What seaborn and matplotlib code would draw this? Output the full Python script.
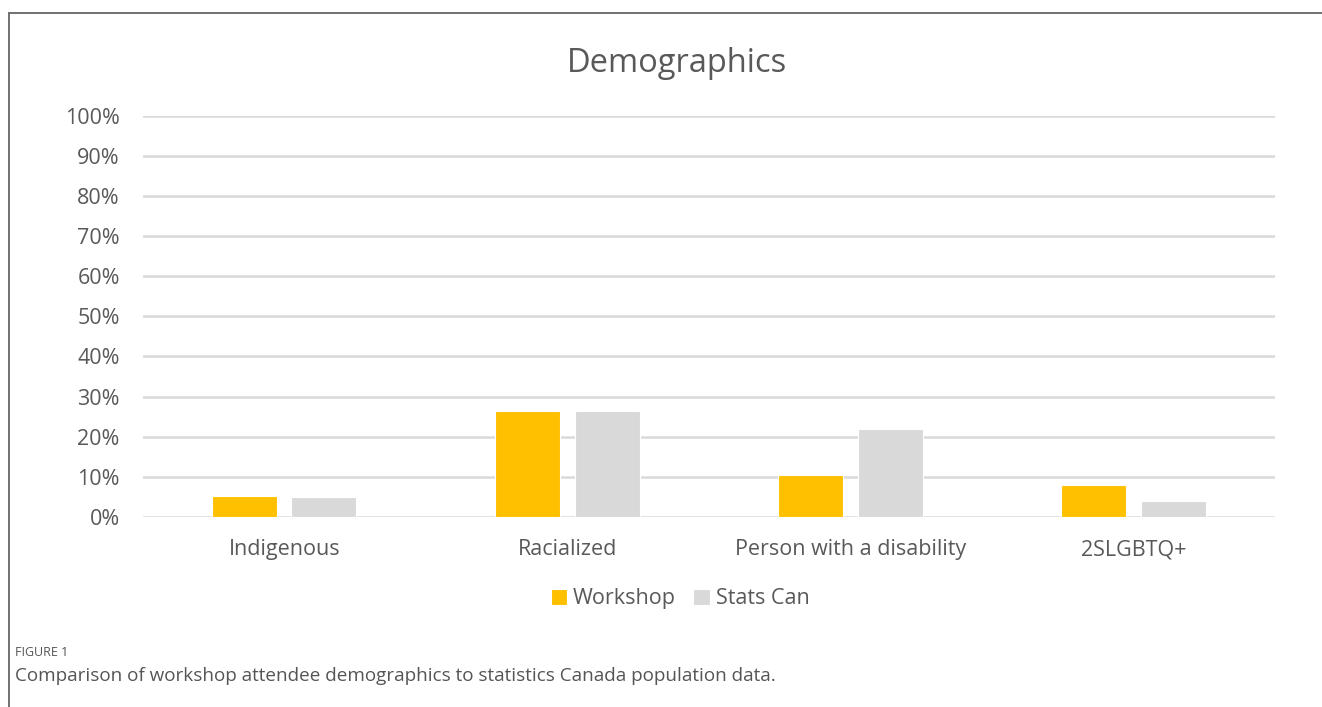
import matplotlib
matplotlib.use("Agg")
import matplotlib.pyplot as plt
from matplotlib.lines import Line2D
from matplotlib.ticker import FuncFormatter
import seaborn as sns
import pandas as pd

categories = ["Indigenous", "Racialized", "Person with a disability", "2SLGBTQ+"]
workshop = [5.3, 26.3, 10.4, 8.0]
stats_can = [5.0, 26.3, 21.9, 3.9]
series_names = ["Workshop", "Stats Can"]
yticks = [0, 10, 20, 30, 40, 50, 60, 70, 80, 90, 100]

df = pd.DataFrame({
    "Category": categories * 2,
    "Value": workshop + stats_can,
    "Series": [series_names[0]] * len(categories) + [series_names[1]] * len(categories),
})

sns.set_theme(style="white")
plt.rcParams["font.family"] = ["Open Sans", "DejaVu Sans"]
text_color = "#595959"

fig = plt.figure(figsize=(13.22, 7.07), dpi=100)
ax = fig.add_axes([0.108, 0.269, 0.8565, 0.567])

sns.barplot(data=df, x="Category", y="Value", hue="Series", order=categories,
            hue_order=series_names, palette=["#FFC000", "#D9D9D9"], saturation=1,
            width=0.56, gap=0.18, edgecolor="white", linewidth=0.8, ax=ax,
            legend=True, zorder=3)

ax.set_ylim(0, 100)
ax.set_xlim(-0.5, 3.5)
ax.set_yticks(yticks)
ax.yaxis.set_major_formatter(FuncFormatter(lambda v, p: f"{int(v)}%"))
ax.grid(axis="y", color="#D9D9D9", linewidth=1.8, zorder=0)
ax.set_axisbelow(True)
for s in ax.spines.values():
    s.set_visible(False)
ax.set_xlabel("")
ax.set_ylabel("")
ax.tick_params(axis="y", labelsize=15.5, colors=text_color, length=0, pad=16.5)
ax.tick_params(axis="x", labelsize=15.5, colors=text_color, length=0, pad=16)

fig.text(0.512, 0.91, "Demographics", ha="center", va="center", fontsize=23.5, color=text_color)

leg = ax.legend(loc="center", bbox_to_anchor=(0.5145, 0.153), bbox_transform=fig.transFigure,
                ncol=2, frameon=False, fontsize=15.5, handlelength=0.75, handleheight=0.75,
                handletextpad=0.3, columnspacing=0.8)
for t in leg.get_texts():
    t.set_color(text_color)

# figure border (left and top)
fig.add_artist(Line2D([9/1322, 9/1322], [0, 1 - 13/707], transform=fig.transFigure,
                      color="#666666", linewidth=1.3))
fig.add_artist(Line2D([9/1322, 1], [1 - 13/707, 1 - 13/707], transform=fig.transFigure,
                      color="#666666", linewidth=1.3))

fig.text(15/1322, 1 - 653/707, "FIGURE 1", ha="left", va="center", fontsize=9,
         color="#555555", family=["Open Sans", "DejaVu Sans"])
fig.text(15/1322, 1 - 676/707,
         "Comparison of workshop attendee demographics to statistics Canada population data.",
         ha="left", va="center", fontsize=13.6, color="#555555",
         family=["Open Sans", "DejaVu Sans"])

fig.savefig("out.png", dpi=100)
